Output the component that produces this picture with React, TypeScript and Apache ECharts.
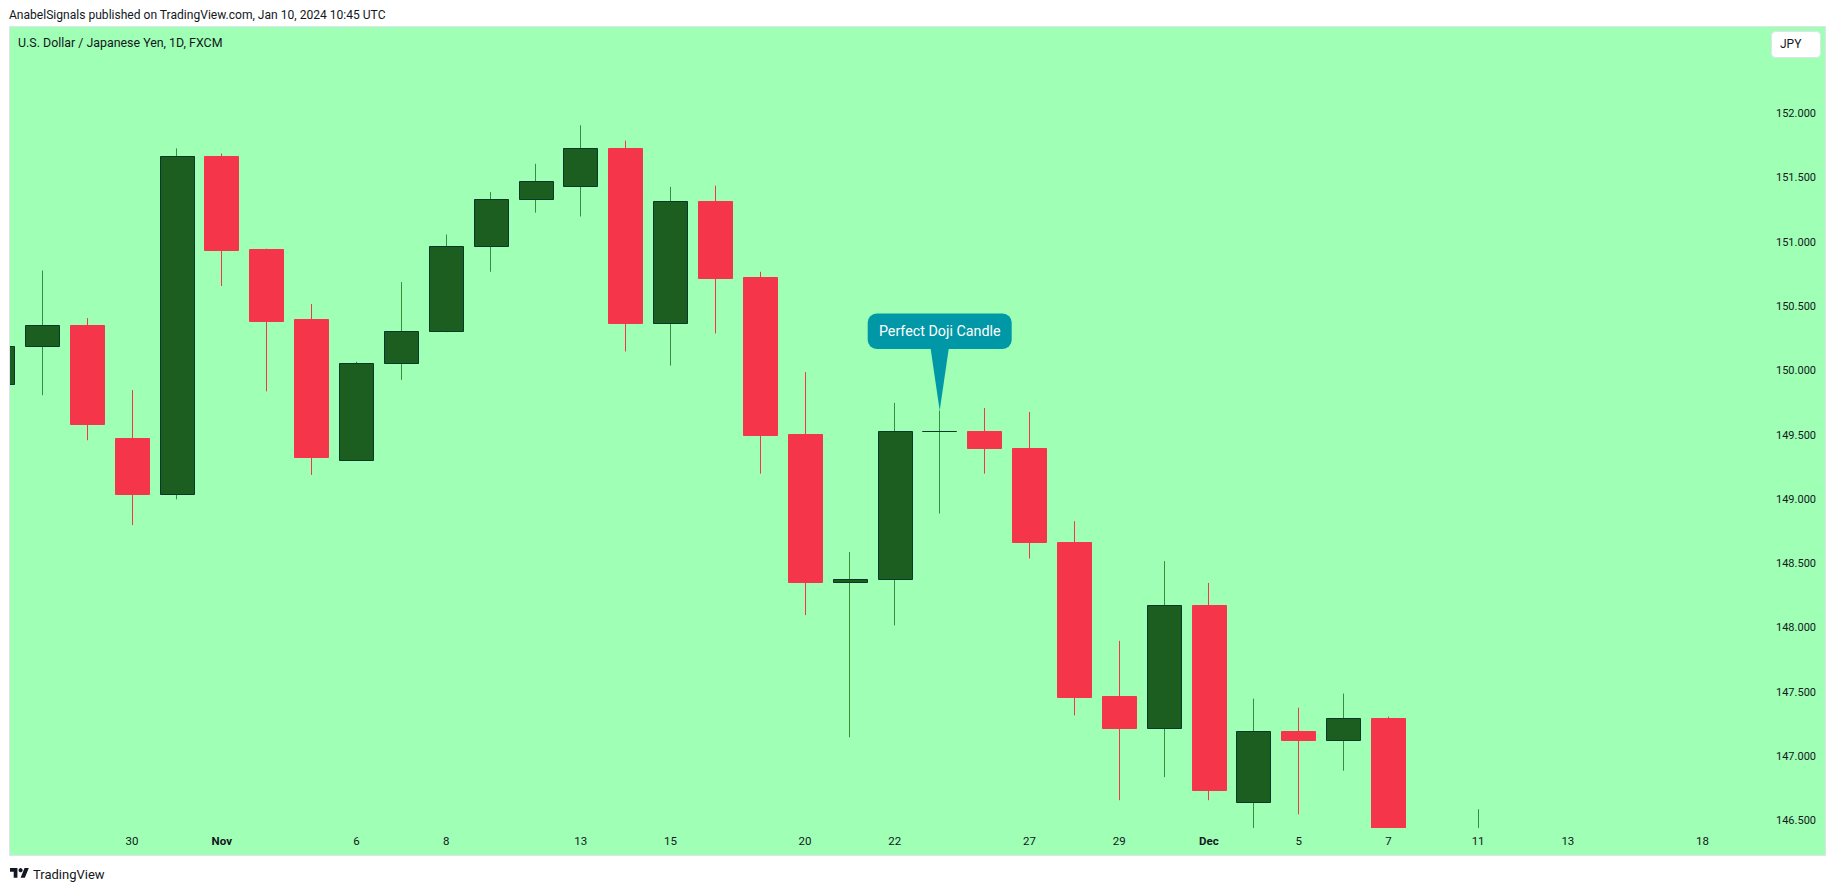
import { useEffect, useRef } from "react";
import * as echarts from "echarts";

// one entry per trading day, Oct 25 -> Dec 11 (Dec 8 and later sit below the pane)
const dates = [
  "Oct 25", "Oct 26", "Oct 27", "Oct 30", "Oct 31", "Nov 1", "Nov 2", "Nov 3", "Nov 6", "Nov 7", "Nov 8", "Nov 9",
  "Nov 10", "Nov 13", "Nov 14", "Nov 15", "Nov 16", "Nov 17", "Nov 20", "Nov 21", "Nov 22", "Nov 23", "Nov 24",
  "Nov 27", "Nov 28", "Nov 29", "Nov 30", "Dec 1", "Dec 4", "Dec 5", "Dec 6", "Dec 7", "Dec 8", "Dec 11",
];
const opens = [
  149.9, 150.19, 150.36, 149.48, 149.04, 151.67, 150.95, 150.4, 149.31, 150.06, 150.31, 150.97,
  151.34, 151.44, 151.73, 150.37, 151.32, 150.73, 149.51, 148.36, 148.38, 149.53, 149.53,
  149.4, 148.67, 147.47, 147.22, 148.18, 146.65, 147.2, 147.13, 147.3, 146.2, 146.1,
];
const closes = [
  150.19, 150.36, 149.59, 149.04, 151.67, 150.94, 150.39, 149.33, 150.06, 150.31, 150.97, 151.34,
  151.48, 151.73, 150.37, 151.32, 150.72, 149.5, 148.36, 148.38, 149.53, 149.53, 149.4,
  148.67, 147.46, 147.22, 148.18, 146.74, 147.2, 147.13, 147.3, 146.2, 146.0, 146.3,
];
const lows = [
  149.9, 149.81, 149.46, 148.8, 149.0, 150.66, 149.84, 149.19, 149.3, 149.93, 150.3, 150.77,
  151.23, 151.2, 150.15, 150.04, 150.29, 149.2, 148.1, 147.15, 148.02, 148.89, 149.2,
  148.54, 147.32, 146.66, 146.84, 146.66, 146.4, 146.55, 146.89, 146.1, 145.9, 146.0,
];
const highs = [
  150.19, 150.78, 150.41, 149.85, 151.73, 151.69, 150.95, 150.52, 150.07, 150.69, 151.06, 151.39,
  151.61, 151.91, 151.79, 151.43, 151.44, 150.77, 149.99, 148.59, 149.75, 149.69, 149.71,
  149.68, 148.83, 147.9, 148.52, 148.35, 147.45, 147.38, 147.49, 147.31, 146.3, 146.59,
];

const xTickIndex = [3, 5, 8, 10, 13, 15, 18, 20, 23, 25, 27, 29, 31, 33, 35, 38];
const xTickLabels = ["30", "Nov", "6", "8", "13", "15", "20", "22", "27", "29", "Dec", "5", "7", "11", "13", "18"];
const yTicks = [146.5, 147, 147.5, 148, 148.5, 149, 149.5, 150, 150.5, 151, 151.5, 152];

const FONT = "Roboto";
const TEXT = "#131722";
const LOGO = "M14 22H7V11H0V4h14v18zM28 22h-8l7.5-18h8L28 22z";

const UP_BODY = "#1b5e20";
const UP_EDGE = "#06392b";
const UP_WICK = "#388e3c";
const DOWN = "#f5364a";
const BODY_WIDTH = 34;

echarts.graphic.registerShape("tvlogo", echarts.graphic.extendPath(LOGO, {}));

// wick and body have different colours, and candles get cut by the pane edge,
// so this is a custom series rather than type: "candlestick"
const renderCandle = (_params: any, api: any) => {
  const i = api.value(0);
  const open = api.value(1);
  const close = api.value(2);
  const up = close >= open;
  const cx = api.coord([i, open])[0];
  const wickX = Math.floor(cx) + 0.5;
  const left = Math.round(cx - BODY_WIDTH / 2 - 0.3) + 0.5;
  const top = Math.round(api.coord([i, Math.max(open, close)])[1]) + 0.5;
  const bottom = Math.round(api.coord([i, Math.min(open, close)])[1]) + 0.5;
  return {
    type: "group",
    children: [
      {
        type: "line",
        shape: { x1: wickX, y1: api.coord([i, api.value(4)])[1], x2: wickX, y2: api.coord([i, api.value(3)])[1] },
        style: { stroke: up ? UP_WICK : DOWN, lineWidth: 1 },
      },
      {
        type: "rect",
        shape: { x: left, y: top, width: BODY_WIDTH, height: bottom - top },
        style: { fill: up ? UP_BODY : DOWN, stroke: up ? UP_EDGE : DOWN, lineWidth: 1 },
      },
    ],
  };
};

const App = () => {
  const chartRef = useRef<HTMLDivElement>(null);

  useEffect(() => {
    if (!chartRef.current) return;
    const chart = echarts.init(chartRef.current, null, { renderer: "svg" });

    chart.setOption({
      animation: false,
      grid: { left: 10, right: 65, top: 27, bottom: 63 },
      xAxis: {
        type: "value",
        min: 0.2801,
        max: 39.505,
        axisLine: { show: false },
        axisTick: { show: false },
        splitLine: { show: false },
        axisLabel: {
          customValues: xTickIndex,
          margin: 7,
          fontFamily: FONT,
          fontSize: 11.5,
          color: TEXT,
          formatter: (v: number) => {
            const label = xTickLabels[xTickIndex.indexOf(v)] ?? "";
            return label === "Nov" || label === "Dec" ? `{b|${label}}` : label;
          },
          rich: { b: { fontFamily: FONT, fontSize: 11.5, fontWeight: "bold", color: TEXT } },
        },
      },
      yAxis: {
        type: "value",
        position: "right",
        min: 146.444,
        max: 152.674,
        axisLine: { show: false },
        axisTick: { show: false },
        splitLine: { show: false },
        axisLabel: {
          customValues: yTicks,
          margin: 6,
          fontFamily: FONT,
          fontSize: 11,
          color: TEXT,
          formatter: (v: number) => v.toFixed(3),
        },
      },
      series: [
        {
          type: "custom",
          clip: true,
          z: 2,
          encode: { x: 0, y: [1, 2, 3, 4] },
          data: dates.map((_, i) => [i, opens[i], closes[i], lows[i], highs[i]]),
          renderItem: renderCandle,
        },
      ],
    });

    // callout hangs off the doji's high
    const [tipX, tipY] = chart.convertToPixel({ gridIndex: 0 }, [21, highs[21]]);

    chart.setOption({
      graphic: [
        {
          type: "rect",
          z: -10,
          silent: true,
          shape: { x: 9.5, y: 26.5, width: 1816, height: 829 },
          style: { fill: "#9fffb4", stroke: "#e0e3eb", lineWidth: 1 },
        },
        {
          type: "text",
          x: 9,
          y: 15,
          style: { text: "AnabelSignals published on TradingView.com, Jan 10, 2024 10:45 UTC", fill: TEXT, font: `12.07px ${FONT}`, verticalAlign: "middle" },
        },
        {
          type: "text",
          x: 18,
          y: 42,
          z: 10,
          style: { text: "U.S. Dollar / Japanese Yen, 1D, FXCM", fill: TEXT, font: `12.4px ${FONT}`, verticalAlign: "middle" },
        },
        {
          type: "rect",
          z: 10,
          shape: { x: 1771.5, y: 31.5, width: 49, height: 26, r: 4 },
          style: { fill: "#ffffff", stroke: "#e0e3eb", lineWidth: 1 },
        },
        {
          type: "text",
          x: 1780,
          y: 44,
          z: 11,
          style: { text: "JPY", fill: TEXT, font: `12px ${FONT}`, verticalAlign: "middle" },
        },
        {
          type: "rect",
          z: 20,
          shape: { x: tipX - 72, y: 313.5, width: 144, height: 35.5, r: 9 },
          style: { fill: "#0097a7" },
        },
        {
          type: "polygon",
          z: 20,
          shape: { points: [[tipX - 9, 349], [tipX + 9, 349], [tipX, tipY]] },
          style: { fill: "#0097a7" },
        },
        {
          type: "text",
          x: tipX,
          y: 331,
          z: 21,
          style: { text: "Perfect Doji Candle", fill: "#ffffff", font: `14.3px ${FONT}`, align: "center", verticalAlign: "middle" },
        },
        {
          type: "tvlogo",
          x: 10,
          y: 866,
          scaleX: 0.53,
          scaleY: 0.53,
          style: { fill: TEXT },
        },
        { type: "circle", shape: { cx: 20.6, cy: 870.2, r: 2.1 }, style: { fill: TEXT } },
        {
          type: "text",
          x: 33,
          y: 874,
          style: { text: "TradingView", fill: TEXT, font: `13px ${FONT}`, verticalAlign: "middle" },
        },
      ],
    });

    return () => {
      chart.dispose();
    };
  }, []);

  return <div ref={chartRef} style={{ position: "absolute", left: 0, top: 0, width: "1835px", height: "891px" }}></div>;
};

export default App;
